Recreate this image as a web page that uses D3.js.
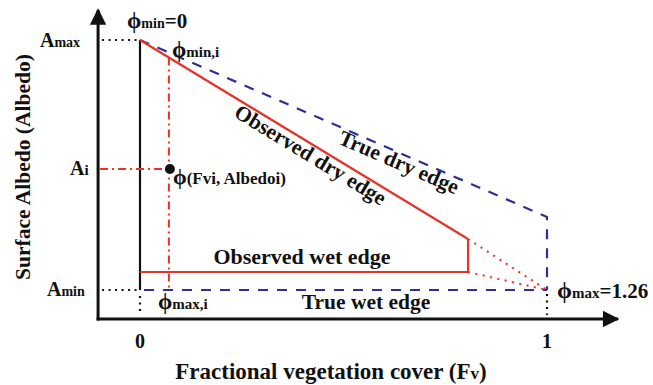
<!DOCTYPE html>
<html>
<head>
<meta charset="utf-8">
<script src="https://cdn.jsdelivr.net/npm/d3@7"></script>
<style>
  html, body { margin: 0; padding: 0; background: #fff; }
  svg text { font-family: "Liberation Serif", "Times New Roman", serif; font-weight: bold; fill: #111; }
</style>
</head>
<body>
<svg id="chart" width="653" height="385"></svg>
<script>
// Trapezoid model of the Fv–albedo feature space (albedo normalised: Amin = 0, Amax = 1)
const fvTicks = [0, 1];
const tickLabels = ["0", "1"];
const albedoLevels = { Amin: 0, Ai: 0.484, Amax: 1 };

// observed edges (red)
const observedDry = [[0, 1], [0.806, 0.204]];
const observedWet = [[0, 0.072], [0.806, 0.072]];
const observedCap = [[0.806, 0.204], [0.806, 0.072]];
// extrapolation of the observed edges to the true corner (red dotted)
const extrapolated = [
  [[0.806, 0.204], [1, 0]],
  [[0.806, 0.072], [1, 0]]
];
// true edges (blue dashed)
const trueDry = [[0, 1], [1, 0.292], [1, 0]];
const trueWet = [[0, 0], [1, 0]];
// sample pixel
const pixel = [0.071, 0.484];

// axis extent (arrow ends)
const fvRange = [-0.103, 1.174];
const albedoRange = [-0.116, 1.12];

const svg = d3.select("#chart");
const x = d3.scaleLinear().domain([0, 1]).range([140, 547]);
const y = d3.scaleLinear().domain([0, 1]).range([290, 40]);
const line = d3.line().x(d => x(d[0])).y(d => y(d[1]));

const RED = "#e6332a", BLUE = "#2e3192", BLACK = "#111";
const PHI = "\u03D5";

// arrow marker
svg.append("defs").append("marker")
  .attr("id", "arrow").attr("viewBox", "0 0 10 10")
  .attr("refX", 9).attr("refY", 5)
  .attr("markerWidth", 6.5).attr("markerHeight", 5.5)
  .attr("markerUnits", "strokeWidth")
  .attr("orient", "auto")
  .append("path").attr("d", "M0,0 L10,5 L0,10 Z").attr("fill", BLACK);

const x0 = x(fvRange[0]), y0 = y(albedoRange[0]);

// axes
svg.append("line").attr("x1", x0).attr("y1", y0 + 1.5).attr("x2", x0).attr("y2", y(albedoRange[1]))
  .attr("stroke", BLACK).attr("stroke-width", 3).attr("marker-end", "url(#arrow)");
svg.append("line").attr("x1", x0 - 1.5).attr("y1", y0).attr("x2", x(fvRange[1])).attr("y2", y0)
  .attr("stroke", BLACK).attr("stroke-width", 3).attr("marker-end", "url(#arrow)");

// black helper lines
svg.append("line").attr("x1", x(0)).attr("x2", x(0)).attr("y1", y(1)).attr("y2", y(0))
  .attr("stroke", BLACK).attr("stroke-width", 2.2);
const dotted = { "stroke": BLACK, "stroke-width": 2.2, "stroke-dasharray": "2,4.5" };
function addLine(x1, y1, x2, y2, style) {
  const l = svg.append("line").attr("x1", x1).attr("y1", y1).attr("x2", x2).attr("y2", y2).attr("fill", "none");
  Object.entries(style).forEach(([k, v]) => l.attr(k, v));
  return l;
}
addLine(x0 + 4, y(albedoLevels.Amax), x(0), y(albedoLevels.Amax), dotted);
addLine(x0 + 4, y(albedoLevels.Amin), x(0), y(albedoLevels.Amin), dotted);
addLine(x(0), y(0) + 6, x(0), y0 - 4, dotted);
addLine(x(1), y(0) + 4, x(1), y0 - 4, dotted);

// true edges
svg.append("path").attr("d", line(trueDry)).attr("fill", "none")
  .attr("stroke", BLUE).attr("stroke-width", 2.2).attr("stroke-dasharray", "10,9");
svg.append("path").attr("d", line(trueWet)).attr("fill", "none")
  .attr("stroke", BLUE).attr("stroke-width", 2.2).attr("stroke-dasharray", "10,9").attr("stroke-dashoffset", -4);

// pixel guide lines (dash-dot)
const dashDot = { "stroke": RED, "stroke-width": 2, "stroke-dasharray": "8,4,2,4" };
const dryAtPixel = observedDry[0][1] + (observedDry[1][1] - observedDry[0][1]) * pixel[0] / observedDry[1][0];
addLine(x(pixel[0]), y(dryAtPixel), x(pixel[0]), y(0) - 2, dashDot);
addLine(x0 + 2, y(pixel[1]), x(pixel[0]) - 4, y(pixel[1]), dashDot);

// observed edges
svg.append("path").attr("d", line(observedDry)).attr("fill", "none").attr("stroke", RED).attr("stroke-width", 2.2);
svg.append("path").attr("d", line(observedCap)).attr("fill", "none").attr("stroke", RED).attr("stroke-width", 2.2);
svg.append("path").attr("d", line(observedWet)).attr("fill", "none").attr("stroke", RED).attr("stroke-width", 2.2);
extrapolated.forEach(seg => {
  svg.append("path").attr("d", line(seg)).attr("fill", "none")
    .attr("stroke", RED).attr("stroke-width", 2).attr("stroke-dasharray", "2,5.5");
});

// pixel point
svg.append("circle").attr("cx", x(pixel[0]) + 1).attr("cy", y(pixel[1])).attr("r", 5).attr("fill", BLACK);

// text helpers: base letter + smaller suffix (+ optional trailing part)
function label(px, py, parts, anchor) {
  const t = svg.append("text").attr("x", px).attr("y", py).attr("text-anchor", anchor || "start");
  parts.forEach(p => t.append("tspan").attr("font-size", p[1]).text(p[0]));
  return t;
}

label(x(0) - 13, 28, [[PHI, 23], ["min", 14], ["=0", 21]]);
label(40, 47, [["A", 20], ["max", 14]]);
label(x(pixel[0]) + 3, 57, [[PHI, 23], ["min,i", 15]]);
label(70, y(albedoLevels.Ai) + 6, [["A", 20], ["i", 15]]);
label(47, 296, [["A", 20], ["min", 14]]);
label(x(pixel[0]) - 11, 309, [[PHI, 23], ["max,i", 15]]);
label(x(1) + 10, 298, [[PHI, 24], ["max", 15], ["=1.26", 21]]);
label(x(pixel[0]) + 4, 184, [[PHI, 22], ["(Fvi, Albedoi)", 17]]);

svg.append("text").attr("x", 302).attr("y", 264).attr("text-anchor", "middle").attr("font-size", 22).text("Observed wet edge");
svg.append("text").attr("x", 366).attr("y", 309).attr("text-anchor", "middle").attr("font-size", 21.5).text("True wet edge");

// rotated labels along the dry edges
function along(seg, t, offset, txt) {
  const p1 = [x(seg[0][0]), y(seg[0][1])], p2 = [x(seg[1][0]), y(seg[1][1])];
  const ang = Math.atan2(p2[1] - p1[1], p2[0] - p1[0]);
  const px = p1[0] + (p2[0] - p1[0]) * t - Math.sin(ang) * offset;
  const py = p1[1] + (p2[1] - p1[1]) * t + Math.cos(ang) * offset;
  svg.append("text").attr("transform", `translate(${px},${py}) rotate(${ang * 180 / Math.PI})`)
    .attr("text-anchor", "middle").attr("font-size", 21.5).text(txt);
}
along(observedDry, 0.535, 17, "Observed dry edge");
along([trueDry[0], trueDry[1]], 0.645, 16, "True dry edge");

// tick labels
fvTicks.forEach((v, i) => {
  svg.append("text").attr("x", x(v)).attr("y", 348).attr("text-anchor", "middle").attr("font-size", 20).text(tickLabels[i]);
});

// axis titles
const xt = svg.append("text").attr("x", 331).attr("y", 379).attr("text-anchor", "middle").attr("font-size", 23);
xt.append("tspan").text("Fractional vegetation cover (F");
xt.append("tspan").attr("font-size", 17).text("v");
xt.append("tspan").text(")");
svg.append("text").attr("transform", "translate(30,167) rotate(-90)").attr("text-anchor", "middle")
  .attr("font-size", 21.5).text("Surface Albedo (Albedo)");
</script>
</body>
</html>
